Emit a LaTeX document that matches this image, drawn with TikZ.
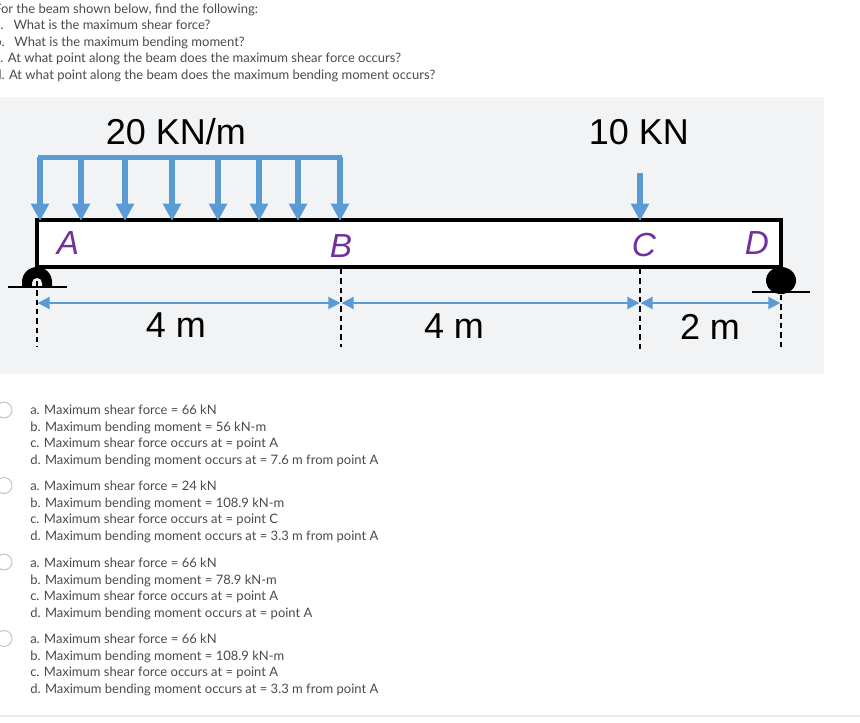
\documentclass[tikz,border=0pt]{standalone}
\usepackage{fontspec}
\setmainfont{Lato}
\newfontfamily\beamfont{Liberation Sans}
\usetikzlibrary{arrows.meta}

\definecolor{panelgray}{HTML}{F1F3F5}
\definecolor{loadblue}{HTML}{5B9BD5}
\definecolor{labelpurple}{HTML}{7030A0}
\definecolor{textgray}{HTML}{4A4A4A}

\tikzset{
  loadline/.style={draw=loadblue,line width=3.8pt,-{Triangle[length=13pt,width=13pt]}},
  dimline/.style={draw=loadblue,line width=1.5pt,{Triangle[length=9pt,width=9pt]}-{Triangle[length=9pt,width=9pt]},shorten >=0.5pt,shorten <=0.5pt},
  guide/.style={draw=black,line width=0.9pt,dash pattern=on 4pt off 3pt},
  bigtext/.style={font=\beamfont\fontsize{27}{30}\selectfont,text=black,inner sep=0pt},
  pointname/.style={font=\beamfont\itshape\fontsize{25}{30}\selectfont,text=labelpurple,inner sep=0pt},
  bodytext/.style={font=\fontsize{9.75}{12.4}\selectfont,text=textgray,align=left,anchor=north west,inner sep=0pt},
  radio/.style={circle,draw=black!22,line width=0.8pt,fill=white,minimum size=12pt,inner sep=0pt},
}

\begin{document}
\begin{tikzpicture}[x=0.75pt,y=-0.75pt]

\useasboundingbox (0,0) rectangle (860,722);

\fill[panelgray] (0,97) rectangle (824,374);

\coordinate (A) at (37,267);
\coordinate (B) at (341,267);
\coordinate (C) at (640,267);
\coordinate (D) at (781,267);

% beam
\draw[fill=white,line width=2.4pt] (37,220) rectangle (781,267);

% distributed load
\draw[draw=loadblue,line width=4.1pt] (38,157.5) -- (342,157.5);
\foreach \x/\name in {40/a,81/b,125/c,172/d,218/e,259/f,298/g,340/h}{
  \coordinate (load\name) at (\x,157);
  \coordinate (tip\name) at (\x,221);
  \draw[loadline] (load\name) -- (tip\name);
}

% point load
\coordinate (ctop) at (640,173);
\coordinate (ctip) at (640,221);
\draw[loadline] (ctop) -- (ctip);

% guides
\coordinate (aend) at (37,347);
\coordinate (bend) at (341,347);
\coordinate (cend) at (640,349);
\coordinate (dend) at (781,347);
\coordinate (dstart) at (781,295);
\draw[guide] (B) ++(0,2) -- (bend);
\draw[guide] (C) ++(0,2) -- (cend);
\draw[guide] (dstart) -- (dend);

% supports
\fill (22,287) -- (22,282) arc[start angle=180,end angle=360,radius=15] -- (52,287) -- cycle;
\fill[panelgray] (32,287) -- (32,283) arc[start angle=180,end angle=360,radius=5] -- (42,287) -- cycle;
\draw[line width=2.2pt] (8,287) -- (67,287);
\draw[guide] (37,281) -- (aend);
\fill (781,280.5) ellipse (15 and 13.5);
\draw[line width=2.2pt] (752,292) -- (810,292);

% dimensions
\coordinate (adim) at (37,303);
\coordinate (bdim) at (341,303);
\coordinate (cdim) at (640,303);
\coordinate (ddim) at (781,303);
\draw[dimline] (adim) -- (bdim);
\draw[dimline] (bdim) -- (cdim);
\draw[dimline] (cdim) -- (ddim);

\node[bigtext] (loadtext) at (176,132) {20 KN/m};
\node[bigtext] (pointtext) at (639,132) {10 KN};
\node[bigtext] (spanab) at (176,325) {4 m};
\node[bigtext] (spanbc) at (454,326) {4 m};
\node[bigtext] (spancd) at (710,327) {2 m};

\node[pointname] (nameA) at (68,243) {A};
\node[pointname] (nameB) at (341,246) {B};
\node[pointname] (nameC) at (644,245) {C};
\node[pointname] (nameD) at (757,243) {D};

% question
\node[bodytext] (question) at (-6,3.5) {For the beam shown below, find the following:\\
a.\hspace{4pt} What is the maximum shear force?\\
b.\hspace{4pt} What is the maximum bending moment?\\
c. At what point along the beam does the maximum shear force occurs?\\
d. At what point along the beam does the maximum bending moment occurs?};

% answers
\foreach \y/\name in {410/one,485.5/two,562/three,638.5/four}
  \node[radio] (radio\name) at (4,\y) {};

\node[bodytext] (answerone) at (30,405) {a. Maximum shear force = 66 kN\\
b. Maximum bending moment = 56 kN-m\\
c. Maximum shear force occurs at = point A\\
d. Maximum bending moment occurs at = 7.6 m from point A};

\node[bodytext] (answertwo) at (30,481) {a. Maximum shear force = 24 kN\\
b. Maximum bending moment = 108.9 kN-m\\
c. Maximum shear force occurs at = point C\\
d. Maximum bending moment occurs at = 3.3 m from point A};

\node[bodytext] (answerthree) at (30,558) {a. Maximum shear force = 66 kN\\
b. Maximum bending moment = 78.9 kN-m\\
c. Maximum shear force occurs at = point A\\
d. Maximum bending moment occurs at = point A};

\node[bodytext] (answerfour) at (30,634) {a. Maximum shear force = 66 kN\\
b. Maximum bending moment = 108.9 kN-m\\
c. Maximum shear force occurs at = point A\\
d. Maximum bending moment occurs at = 3.3 m from point A};

\draw[black!8,line width=0.8pt] (0,716) -- (860,716);

\end{tikzpicture}
\end{document}
